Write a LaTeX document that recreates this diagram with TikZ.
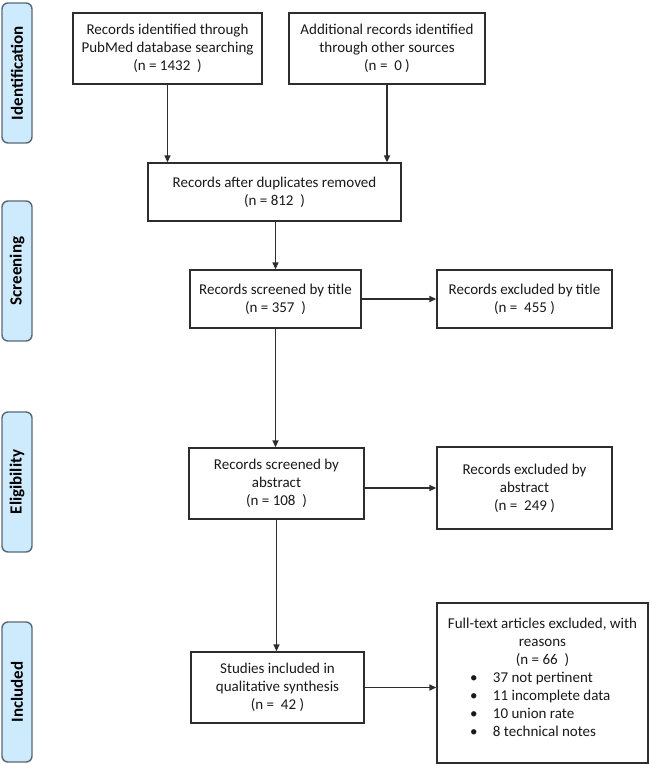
\documentclass[tikz,border=0pt]{standalone}
\usepackage{fontspec}
\setmainfont{Carlito}
\usetikzlibrary{arrows.meta}
\definecolor{barfill}{RGB}{206,234,253}
\definecolor{barline}{RGB}{90,104,118}
\definecolor{boxline}{RGB}{45,45,45}
\definecolor{txt}{RGB}{25,25,25}
\tikzset{
  box/.style={draw=boxline, line width=1.3pt, rectangle, align=center, inner sep=0pt,
    font=\fontsize{15}{18}\selectfont, text=txt},
  bar/.style={draw=barline, fill=barfill, line width=1.4pt, rounded corners=6pt,
    rotate=90, minimum width=140pt, minimum height=30pt, inner sep=0pt,
    font=\fontsize{17}{18}\selectfont\bfseries, text=black},
  arr/.style={-{Triangle[length=7pt,width=6pt]}, line width=1.4pt, draw=boxline}
}
\begin{document}
\begin{tikzpicture}[x=1pt,y=-1pt]
\useasboundingbox (0,0) rectangle (649,764);
% phase bars
\node[bar] (pid) at (17,73) {Identification};
\node[bar] (pscr) at (17,271) {Screening};
\node[bar] (pel) at (17,482) {Eligibility};
\node[bar] (pinc) at (17,692) {Included};
% boxes
\node[box, minimum width=189pt, minimum height=71pt] (A) at (167.5,48.5)
  {Records identified through\\PubMed database searching\\(n = 1432\ \ )};
\node[box, minimum width=196pt, minimum height=71pt] (B) at (387,48.5)
  {Additional records identified\\through other sources\\(n = \ 0 )};
\node[box, minimum width=253pt, minimum height=58pt] (C) at (274.5,192)
  {Records after duplicates removed\\(n = 812\ \ )};
\node[box, minimum width=171pt, minimum height=58pt] (D) at (275.5,299)
  {Records screened by title\\(n = 357\ \ )};
\node[box, minimum width=175pt, minimum height=58pt] (E) at (524.5,299)
  {Records excluded by title\\(n = \ 455 )};
\node[box, minimum width=175pt, minimum height=71pt] (F) at (276.5,483.5)
  {Records screened by\\abstract\\(n = 108\ \ )};
\node[box, minimum width=175pt, minimum height=82pt] (G) at (524.5,488)
  {Records excluded by\\abstract\\(n = \ 249 )};
\node[box, minimum width=173pt, minimum height=71pt] (H) at (277.5,687.5)
  {Studies included in\\qualitative synthesis\\(n = \ 42 )};
\node[box] (FT) at (542.5,683)
  {\parbox[c][160pt][t]{211pt}{\vspace*{15pt}%
   \centering Full-text articles excluded, with\\reasons\\(n = 66\ \ )\par
   \raggedright
   \hspace*{33pt}\makebox[23pt][l]{•}37 not pertinent\\
   \hspace*{33pt}\makebox[23pt][l]{•}11 incomplete data\\
   \hspace*{33pt}\makebox[23pt][l]{•}10 union rate\\
   \hspace*{33pt}\makebox[23pt][l]{•}8 technical notes\par}};
% connectors
\draw[arr] (A.south) -- (A.south |- C.north);
\draw[arr] (B.south) -- (B.south |- C.north);
\draw[arr] (D.north |- C.south) -- (D.north);
\draw[arr] (D.east) -- (E.west);
\draw[arr] (D.south) -- (D.south |- F.north);
\draw[arr] (G.west -| F.east) -- (G.west);
\draw[arr] (F.south) -- (F.south |- H.north);
\draw[arr] (H.east) -- (H.east -| FT.west);
\end{tikzpicture}
\end{document}
